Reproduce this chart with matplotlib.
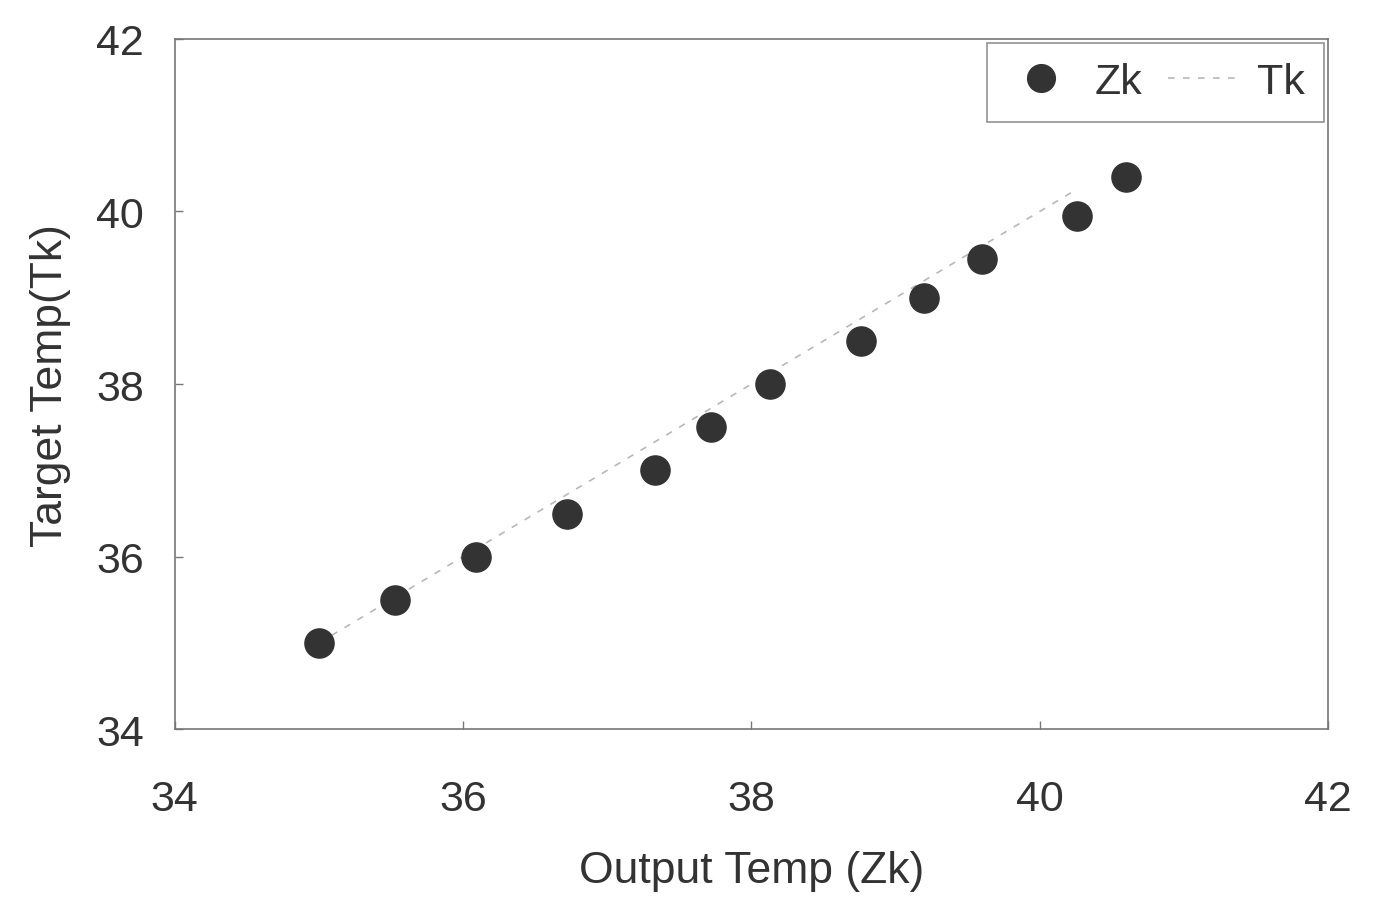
import matplotlib
matplotlib.use('Agg')
import matplotlib.pyplot as plt

# Zk (output) vs Tk (target)
zk = [35.0, 35.53, 36.09, 36.72, 37.33, 37.72, 38.13, 38.76, 39.2, 39.6, 40.26, 40.6]
tk = [35.0, 35.5, 36.0, 36.5, 37.0, 37.5, 38.0, 38.5, 39.0, 39.45, 39.95, 40.4]
# reference line Tk (y = x)
line_x = [35.0, 40.25]
line_y = [35.0, 40.25]
ticks = [34, 36, 38, 40, 42]

plt.rcParams['font.family'] = ['Liberation Sans', 'DejaVu Sans']

fig = plt.figure(figsize=(13.85, 9.04), dpi=100)
ax = fig.add_axes([0.126, 0.192, 0.833, 0.764])

ax.plot(zk, tk, 'o', color='#333333', markersize=21, label='Zk', zorder=3)
ax.plot(line_x, line_y, '--', color='#b8b8b8', linewidth=1.2, dashes=(4, 5), label='Tk', zorder=2)

ax.set_xlim(34, 42)
ax.set_ylim(34, 42)
ax.set_xticks(ticks)
ax.set_yticks(ticks)
ax.tick_params(direction='in', length=6, width=1, color='#777777', labelsize=31, labelcolor='#333333')
ax.tick_params(axis='x', pad=36)
ax.tick_params(axis='y', pad=22)
for s in ax.spines.values():
    s.set_color('#777777')
    s.set_linewidth(1.2)

ax.set_xlabel('Output Temp (Zk)', fontsize=32, color='#333333', labelpad=22)
ax.set_ylabel('Target Temp(Tk)', fontsize=32, color='#333333', labelpad=18)

leg = ax.legend(loc='upper right', ncol=2, fontsize=31, frameon=True, fancybox=False,
                borderaxespad=0.1, handlelength=1.6, columnspacing=0.6, handletextpad=0.45,
                markerscale=0.95, borderpad=0.45)
leg.get_frame().set_edgecolor('#777777')
leg.get_frame().set_linewidth(1.2)
for t in leg.get_texts():
    t.set_color('#333333')

fig.savefig('out.png', dpi=100)
